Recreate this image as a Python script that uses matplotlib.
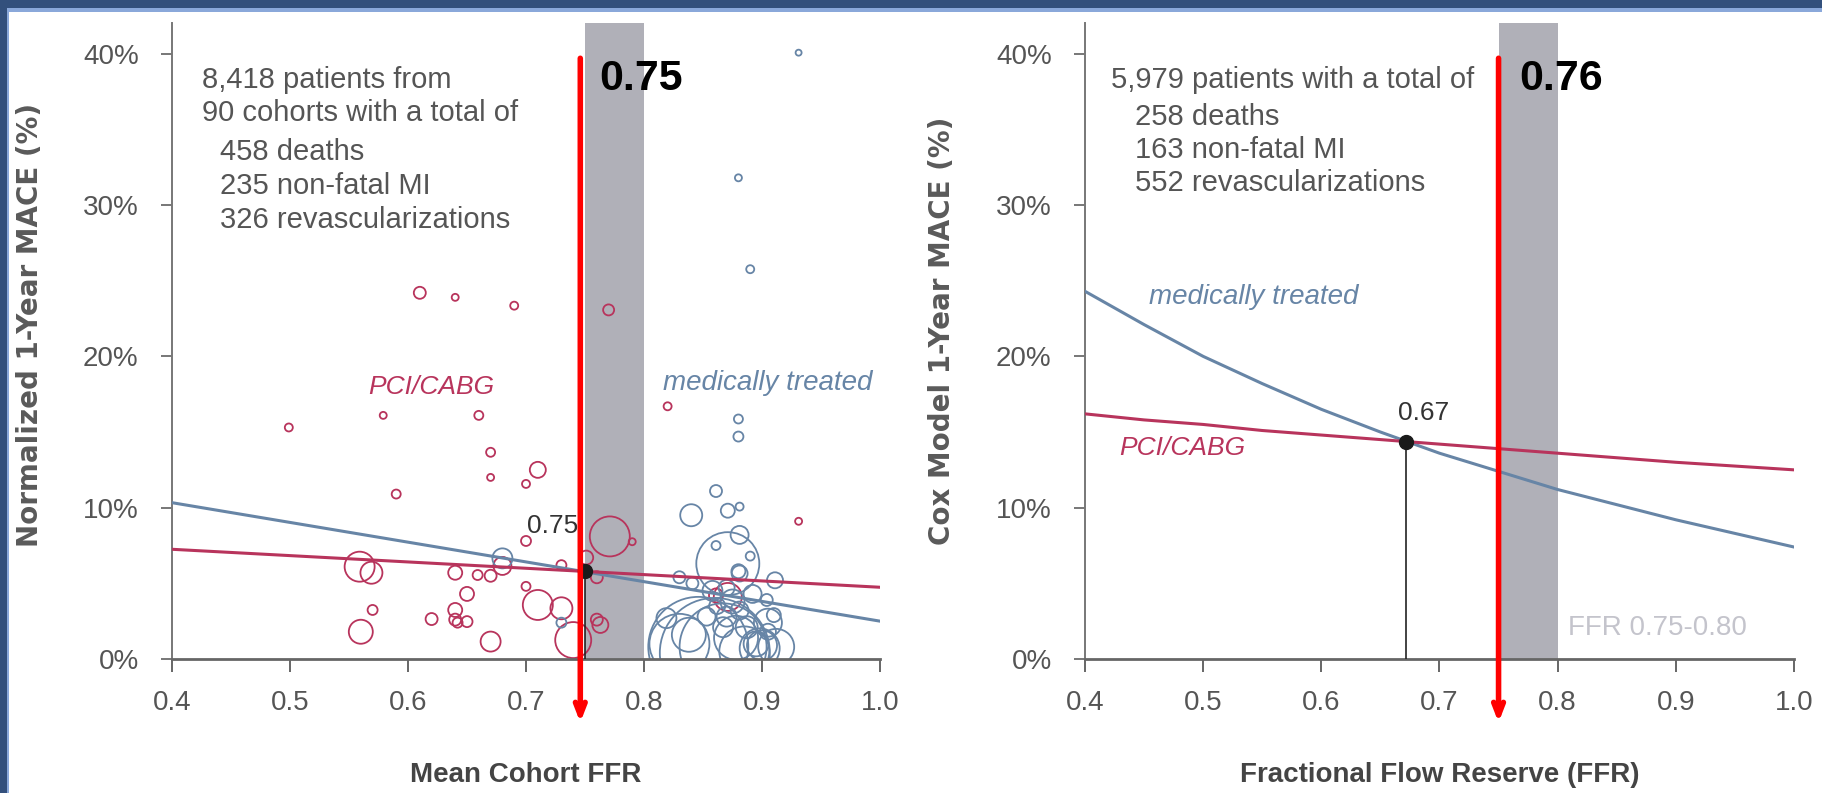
import numpy as np
import matplotlib.pyplot as plt
from matplotlib.patches import Rectangle

# ---- data ----
# left panel: cohorts (mean FFR, normalized 1-year MACE %, bubble diameter)
pci_ffr = [0.499, 0.579, 0.610, 0.640, 0.690, 0.770, 0.660, 0.820, 0.670, 0.670,
           0.700, 0.710, 0.590, 0.700, 0.559, 0.569, 0.640, 0.659, 0.670, 0.680,
           0.700, 0.650, 0.570, 0.640, 0.620, 0.640, 0.642, 0.650, 0.560, 0.670,
           0.710, 0.730, 0.730, 0.751, 0.760, 0.760, 0.763, 0.740, 0.771, 0.790,
           0.861, 0.871, 0.931]
pci_mace = [15.3, 16.1, 24.2, 23.9, 23.35, 23.07, 16.1, 16.7, 13.66, 12.0,
            11.57, 12.5, 10.9, 7.8, 6.1, 5.7, 5.7, 5.55, 5.5, 6.15,
            4.8, 4.3, 3.24, 3.24, 2.64, 2.6, 2.4, 2.47, 1.8, 1.15,
            3.57, 3.35, 6.2, 6.7, 5.4, 2.6, 2.25, 1.25, 8.1, 7.75,
            4.2, 4.1, 9.1]
pci_diam = [8, 7, 12, 7, 8, 11, 9, 8, 9, 7,
            8, 16, 9, 10, 30, 22, 14, 10, 12, 18,
            9, 14, 10, 14, 12, 12, 10, 11, 24, 20,
            30, 22, 10, 14, 12, 12, 16, 36, 40, 7,
            14, 28, 7]

med_ffr = [0.931, 0.880, 0.890, 0.880, 0.880, 0.680, 0.730, 0.840, 0.871, 0.881,
           0.861, 0.881, 0.871, 0.861, 0.890, 0.880, 0.830, 0.841, 0.911, 0.870,
           0.881, 0.819, 0.846, 0.867, 0.904, 0.910, 0.862, 0.853, 0.870, 0.881,
           0.887, 0.867, 0.895, 0.900, 0.898, 0.875, 0.858, 0.892, 0.905, 0.885,
           0.830, 0.860, 0.905, 0.838, 0.878, 0.912]
med_mace = [40.07, 31.8, 25.76, 15.86, 14.7, 6.65, 2.4, 9.5, 9.8, 10.07,
            11.1, 8.2, 6.3, 7.5, 6.8, 5.8, 5.4, 5.0, 5.2, 4.7,
            5.65, 2.7, 0.8, 0.8, 3.9, 2.9, 3.5, 2.8, 2.8, 3.2,
            2.1, 2.1, 1.0, 0.9, 0.7, 3.8, 4.5, 4.3, 1.8, 0.5,
            1.0, 0.4, 2.4, 1.6, 1.4, 0.8]
med_diam = [6, 7, 8, 9, 10, 20, 10, 22, 14, 8,
            12, 18, 63, 9, 9, 14, 12, 12, 16, 16,
            16, 20, 100, 87, 12, 14, 16, 18, 20, 18,
            22, 20, 25, 30, 40, 24, 20, 18, 16, 50,
            60, 110, 28, 34, 44, 36]

# left panel regression lines
lin_ffr = [0.4, 1.0]
lin_pci = [7.25, 4.74]
lin_med = [10.33, 2.5]

# right panel: Cox model curves
cox_ffr = [0.40, 0.45, 0.50, 0.55, 0.60, 0.65, 0.70, 0.75, 0.80, 0.85, 0.90, 0.95, 1.00]
cox_med = [24.3, 22.1, 20.0, 18.2, 16.5, 15.0, 13.6, 12.4, 11.2, 10.2, 9.2, 8.3, 7.4]
cox_pci = [16.2, 15.8, 15.5, 15.1, 14.8, 14.5, 14.2, 13.9, 13.6, 13.3, 13.0, 12.75, 12.5]

cut_left = (0.75, 5.8)
cut_right = (0.672, 14.35)
marked_left = 0.746
marked_right = 0.750

xticks = [0.4, 0.5, 0.6, 0.7, 0.8, 0.9, 1.0]
yticks = [0, 10, 20, 30, 40]

# ---- styles ----
RED = '#b8345c'
BLUE = '#6785a6'
BAND = '#b0b0b8'
GREY_TXT = '#555555'
SPINE = '#777777'
FONT = ['Liberation Sans', 'DejaVu Sans']

plt.rcParams['font.family'] = FONT

fig = plt.figure(figsize=(18.22, 7.93), dpi=100)
fig.patch.set_facecolor('white')

# frame decoration at top and left edge
fig.add_artist(Rectangle((0, 1 - 8 / 793), 1, 8 / 793, transform=fig.transFigure,
                         color='#33507c', lw=0))
fig.add_artist(Rectangle((7 / 1822, 1 - 12 / 793), 1, 4 / 793, transform=fig.transFigure,
                         color='#8aa8da', lw=0))
fig.add_artist(Rectangle((0, 0), 7 / 1822, 1, transform=fig.transFigure,
                         color='#33507c', lw=0))
fig.add_artist(Rectangle((7 / 1822, 0), 2 / 1822, 1 - 8 / 793, transform=fig.transFigure,
                         color='#8aa8da', lw=0))

ax1 = fig.add_axes([0.0944, 0.169, 0.3886, 0.8014])
ax2 = fig.add_axes([0.5955, 0.169, 0.3891, 0.8014])


def style_axes(ax):
    ax.set_xlim(0.4, 1.0)
    ax.set_ylim(0, 42)
    ax.set_xticks(xticks)
    ax.set_xticklabels(['%.1f' % t for t in xticks])
    ax.set_yticks(yticks)
    ax.set_yticklabels(['%d%%' % t for t in yticks])
    for s in ['top', 'right']:
        ax.spines[s].set_visible(False)
    ax.spines['left'].set_color(SPINE)
    ax.spines['left'].set_linewidth(1.4)
    ax.spines['bottom'].set_color('#666666')
    ax.spines['bottom'].set_linewidth(2)
    ax.tick_params(axis='x', length=9, width=1.4, color='#666666', labelsize=20,
                   labelcolor=GREY_TXT, pad=13)
    ax.tick_params(axis='y', length=8, width=1.4, color=SPINE, labelsize=20,
                   labelcolor=GREY_TXT, pad=16)
    ax.axvspan(0.75, 0.80, color=BAND, lw=0, zorder=0)


def red_marker(ax, x, label, lx):
    ax.annotate('', xy=(x, -4.2), xytext=(x, 39.7),
                arrowprops=dict(arrowstyle='->,head_length=0.9,head_width=0.35',
                                color='red', lw=4, shrinkA=0, shrinkB=0),
                annotation_clip=False, zorder=10)
    ax.text(lx, 38.3, label, fontsize=31, fontweight='bold', color='black',
            va='center', ha='left', zorder=11)


# ---- left panel ----
style_axes(ax1)
ax1.scatter(pci_ffr, pci_mace, s=(np.array(pci_diam) * 0.72) ** 2, facecolors='none',
            edgecolors=RED, linewidths=1.3, zorder=2)
ax1.scatter(med_ffr, med_mace, s=(np.array(med_diam) * 0.72) ** 2, facecolors='none',
            edgecolors=BLUE, linewidths=1.3, zorder=2)
ax1.plot(lin_ffr, lin_med, color=BLUE, lw=2.2, zorder=3)
ax1.plot(lin_ffr, lin_pci, color=RED, lw=2.2, zorder=3)
ax1.plot([cut_left[0], cut_left[0]], [0, cut_left[1]], color='#222222', lw=1.2, zorder=3)
ax1.plot(*cut_left, 'o', color='#1a1a1a', ms=10, zorder=4)
ax1.text(0.744, 8.8, '0.75', fontsize=19, color='#333333', ha='right', va='center')

ax1.text(0.4254, 38.27, '8,418 patients from', fontsize=21, color=GREY_TXT, va='center')
ax1.text(0.4254, 36.09, '90 cohorts with a total of', fontsize=21, color=GREY_TXT, va='center')
ax1.text(0.4407, 33.51, '458 deaths', fontsize=21, color=GREY_TXT, va='center')
ax1.text(0.4407, 31.26, '235 non-fatal MI', fontsize=21, color=GREY_TXT, va='center')
ax1.text(0.4407, 29.02, '326 revascularizations', fontsize=21, color=GREY_TXT, va='center')
ax1.text(0.816, 18.24, 'medically treated', fontsize=20, style='italic', color=BLUE, va='center')
ax1.text(0.566, 17.98, 'PCI/CABG', fontsize=19, style='italic', color=RED, va='center')

ax1.set_ylabel('Normalized 1-Year MACE (%)', fontsize=20, fontweight='bold', color='#5a5a5a',
               family=['DejaVu Sans'])
ax1.yaxis.set_label_coords(-0.181, 0.526)
ax1.set_xlabel('Mean Cohort FFR', fontsize=20, fontweight='bold', color='#444444')
ax1.xaxis.set_label_coords(0.5, -0.162)
red_marker(ax1, marked_left, '0.75', 0.7619)

# ---- right panel ----
style_axes(ax2)
ax2.plot(cox_ffr, cox_med, color=BLUE, lw=2.2, zorder=3)
ax2.plot(cox_ffr, cox_pci, color=RED, lw=2.2, zorder=3)
ax2.plot([cut_right[0], cut_right[0]], [0, cut_right[1]], color='#222222', lw=1.2, zorder=3)
ax2.plot(*cut_right, 'o', color='#1a1a1a', ms=10, zorder=4)
ax2.text(0.6865, 16.26, '0.67', fontsize=19, color='#333333', ha='center', va='center')

ax2.text(0.422, 38.27, '5,979 patients with a total of', fontsize=21, color=GREY_TXT, va='center')
ax2.text(0.4423, 35.8, '258 deaths', fontsize=21, color=GREY_TXT, va='center')
ax2.text(0.4423, 33.64, '163 non-fatal MI', fontsize=21, color=GREY_TXT, va='center')
ax2.text(0.4423, 31.49, '552 revascularizations', fontsize=21, color=GREY_TXT, va='center')
ax2.text(0.454, 23.93, 'medically treated', fontsize=20, style='italic', color=BLUE, va='center')
ax2.text(0.4288, 13.95, 'PCI/CABG', fontsize=19, style='italic', color=RED, va='center')
ax2.text(0.8088, 2.05, 'FFR 0.75-0.80', fontsize=20, color='#c4c4cc', va='center')

ax2.set_ylabel('Cox Model 1-Year MACE (%)', fontsize=20, fontweight='bold', color='#5a5a5a',
               family=['DejaVu Sans'])
ax2.yaxis.set_label_coords(-0.182, 0.516)
ax2.set_xlabel('Fractional Flow Reserve (FFR)', fontsize=20, fontweight='bold', color='#444444')
ax2.xaxis.set_label_coords(0.5, -0.162)
red_marker(ax2, marked_right, '0.76', 0.7673)

fig.savefig('out.png', dpi=100)
